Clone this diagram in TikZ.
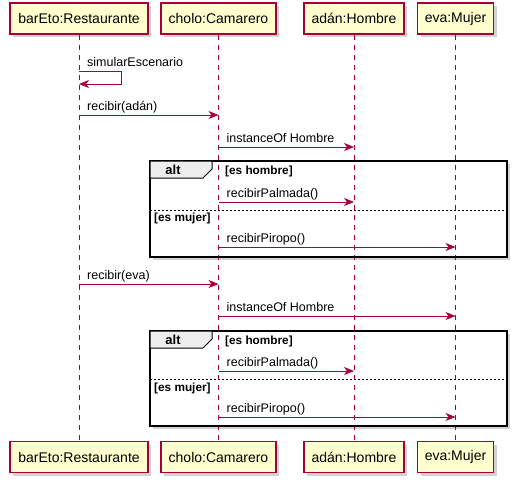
\documentclass[tikz,border=0pt]{standalone}
\usepackage{fontspec}
\setmainfont{Liberation Sans}
\usetikzlibrary{arrows.meta,shadows}

\definecolor{umlred}{HTML}{A80036}
\definecolor{umlfill}{HTML}{FEFECE}
\definecolor{umltab}{HTML}{EEEEEE}

\tikzset{
  part/.style={draw=umlred,fill=umlfill,line width=1.2pt,inner sep=0pt,minimum height=31pt,
    font=\fontsize{14}{16}\selectfont,
    drop shadow={shadow xshift=3pt,shadow yshift=-3pt,opacity=0.35}},
  life/.style={draw=umlred,line width=0.8pt,dash pattern=on 5pt off 5pt},
  msg/.style={draw=umlred,line width=0.9pt,-{Stealth[length=10pt,width=8pt,inset=3pt]}},
  lbl/.style={anchor=base west,inner sep=0pt,font=\fontsize{12.5}{14}\selectfont},
  guard/.style={anchor=base west,inner sep=0pt,font=\bfseries\fontsize{11.8}{13}\selectfont},
  altframe/.style={draw=black,line width=1.5pt},
  altsep/.style={draw=black,line width=0.6pt,dash pattern=on 2pt off 2pt},
}

\begin{document}
\begin{tikzpicture}[x=1pt,y=-1pt]
		\useasboundingbox (0,0) rectangle (517,482);

		\fill[white,drop shadow={shadow xshift=3pt,shadow yshift=-3pt,opacity=0.35}] (150,161) rectangle (507,257);
		\fill[white,drop shadow={shadow xshift=3pt,shadow yshift=-3pt,opacity=0.35}] (150,331) rectangle (507,426);

		\node[part,minimum width=138pt] (rtop) at (79,18.5) {barEto:Restaurante};
		\node[part,minimum width=115pt] (ctop) at (218.5,18.5) {cholo:Camarero};
		\node[part,minimum width=100pt] (atop) at (354,18.5) {adán:Hombre};
		\node[part,minimum width=76pt] (etop) at (455.5,18.5) {eva:Mujer};

		\node[part,minimum width=138pt] (rbot) at (79,457) {barEto:Restaurante};
		\node[part,minimum width=115pt] (cbot) at (218.5,457) {cholo:Camarero};
		\node[part,minimum width=100pt] (abot) at (354,457) {adán:Hombre};
		\node[part,minimum width=76pt] (ebot) at (455.5,457) {eva:Mujer};

		\draw[life] (rtop.south) -- (rbot.north);
		\draw[life] (ctop.south) -- (cbot.north);
		\draw[life] (atop.south) -- (abot.north);
		\draw[life] (etop.south) -- (ebot.north);

		\draw[altframe] (150,161) rectangle (507,257);
		\draw[altframe] (150,331) rectangle (507,426);
		\draw[fill=umltab,line width=1pt] (150,161) -- (212,161) -- (212,169) -- (203,178) -- (150,178) -- cycle;
		\draw[fill=umltab,line width=1pt] (150,331) -- (212,331) -- (212,339) -- (203,348) -- (150,348) -- cycle;
		\node[font=\bfseries\fontsize{13}{15}\selectfont] (alt1) at (173,170) {alt};
		\node[font=\bfseries\fontsize{13}{15}\selectfont] (alt2) at (173,340) {alt};
		\draw[altsep] (150,210) -- (507,210);
		\draw[altsep] (150,379) -- (507,379);
		\node[guard] (g1) at (225,174) {[es hombre]};
		\node[guard] (g2) at (154,221) {[es mujer]};
		\node[guard] (g3) at (225,344) {[es hombre]};
		\node[guard] (g4) at (154,391) {[es mujer]};

		\coordinate (y0) at (0,71);
		\coordinate (y0b) at (0,84);
		\coordinate (y1) at (0,115);
		\coordinate (y2) at (0,147);
		\coordinate (y3) at (0,202);
		\coordinate (y4) at (0,247);
		\coordinate (y5) at (0,284);
		\coordinate (y6) at (0,316);
		\coordinate (y7) at (0,371);
		\coordinate (y8) at (0,417);

		\draw[msg] (rtop |- y0) -- ++(42,0) -- ++(0,13) -- (rtop |- y0b);
		\draw[msg] (rtop |- y1) -- (ctop |- y1);
		\draw[msg] (ctop |- y2) -- (atop |- y2);
		\draw[msg] (ctop |- y3) -- (atop |- y3);
		\draw[msg] (ctop |- y4) -- (etop |- y4);
		\draw[msg] (rtop |- y5) -- (ctop |- y5);
		\draw[msg] (ctop |- y6) -- (etop |- y6);
		\draw[msg] (ctop |- y7) -- (atop |- y7);
		\draw[msg] (ctop |- y8) -- (etop |- y8);

		\node[lbl] (m0) at ([xshift=8pt,yshift=5pt]rtop |- y0) {simularEscenario};
		\node[lbl] (m1) at ([xshift=8pt,yshift=5pt]rtop |- y1) {recibir(adán)};
		\node[lbl] (m2) at ([xshift=8pt,yshift=5pt]ctop |- y2) {instanceOf Hombre};
		\node[lbl] (m3) at ([xshift=8pt,yshift=5pt]ctop |- y3) {recibirPalmada()};
		\node[lbl] (m4) at ([xshift=8pt,yshift=5pt]ctop |- y4) {recibirPiropo()};
		\node[lbl] (m5) at ([xshift=8pt,yshift=5pt]rtop |- y5) {recibir(eva)};
		\node[lbl] (m6) at ([xshift=8pt,yshift=5pt]ctop |- y6) {instanceOf Hombre};
		\node[lbl] (m7) at ([xshift=8pt,yshift=5pt]ctop |- y7) {recibirPalmada()};
		\node[lbl] (m8) at ([xshift=8pt,yshift=5pt]ctop |- y8) {recibirPiropo()};
	\end{tikzpicture}
\end{document}
